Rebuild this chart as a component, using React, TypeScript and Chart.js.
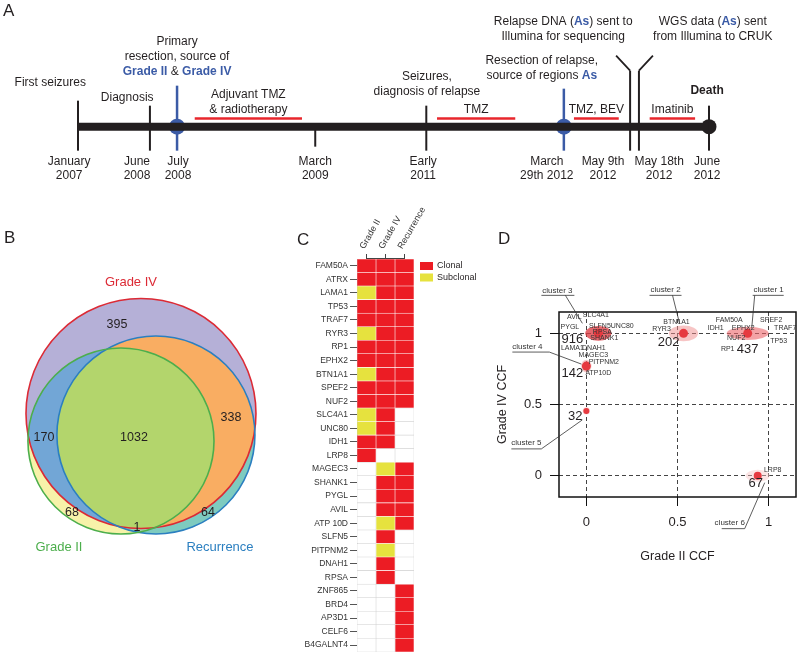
import React, { useEffect, useRef } from "react";
import { Chart, registerables } from "chart.js";
Chart.register(...registerables);

const FONT = "'Liberation Sans', Arial, Helvetica, sans-serif";
const INK = "#231f20";
const BLUE = "#3b5ba6";
const TREAT_RED = "#e8262c";
Chart.defaults.font.family = FONT;

// ---------------- Panel A: timeline ----------------
const dateLine1 = ["January", "June", "July", "March", "Early", "March", "May 9th", "May 18th", "June"];
const dateLine2 = ["2007", "2008", "2008", "2009", "2011", "29th 2012", "2012", "2012", "2012"];
const datePos = [0, 11.4, 15.7, 37.6, 55.2, 77.0, 87.5, 88.9, 100];
const dateLabelPos = [-1.4, 9.35, 15.85, 37.6, 54.7, 74.3, 83.2, 92.1, 99.7];
const dateIsSample = [false, false, true, false, false, true, false, false, false];
const treatNames = [["Adjuvant TMZ", "& radiotherapy"], ["TMZ"], ["TMZ, BEV"], ["Imatinib"]];
const treatStart = [18.5, 56.9, 78.6, 90.6];
const treatEnd = [35.5, 69.3, 85.7, 97.8];

type Seg = { t: string; b?: boolean; c?: string };
const BB = (t: string): Seg => ({ t, b: true, c: BLUE });
const eventNotePos = [-4.4, 7.8, 15.7, 55.3, 73.5, 76.9, 100.6, 99.7];
const eventNotes: Seg[][][] = [
  [[{ t: "First seizures" }]],
  [[{ t: "Diagnosis" }]],
  [[{ t: "Primary" }], [{ t: "resection, source of" }], [BB("Grade II"), { t: " & " }, BB("Grade IV")]],
  [[{ t: "Seizures," }], [{ t: "diagnosis of relapse" }]],
  [[{ t: "Resection of relapse," }], [{ t: "source of regions " }, BB("As")]],
  [[{ t: "Relapse DNA (" }, BB("As"), { t: ") sent to" }], [{ t: "Illumina for sequencing" }]],
  [[{ t: "WGS data (" }, BB("As"), { t: ") sent" }], [{ t: "from Illumina to CRUK" }]],
  [[{ t: "Death", b: true }]],
];
// layout (pixels)
const NOTE_TOP = [83, 98, 42, 77, 61, 22, 22, 91];
const TICK_UP = [26, 21, 41, 0, 21, 38, 56, 56, 21];
const TICK_DOWN = [24, 24, 24, 20, 24, 24, 24, 24, 24];
const TREAT_LEVEL = 0.064;

// ---------------- Panel B: Venn ----------------
const vennSets = ["Grade IV", "Recurrence", "Grade II"];
const vennCx = [0, 0.13, -0.174];
const vennCy = [0, -0.187, -0.239];
const vennR = [1, 0.861, 0.809];
const vennSetLabelX = [-0.087, 0.687, -0.713];
const vennSetLabelY = [1.143, -1.161, -1.161];
const vennCounts = [395, 170, 1032, 338, 68, 64, 1];
const vennCountX = [-0.209, -0.843, -0.061, 0.783, -0.6, 0.583, -0.035];
const vennCountY = [0.77, -0.213, -0.213, -0.039, -0.865, -0.865, -0.996];

// ---------------- Panel C: heatmap ----------------
const heatGenes = ["FAM50A", "ATRX", "LAMA1", "TP53", "TRAF7", "RYR3", "RP1", "EPHX2", "BTN1A1", "SPEF2", "NUF2", "SLC4A1", "UNC80", "IDH1", "LRP8", "MAGEC3", "SHANK1", "PYGL", "AVIL", "ATP 10D", "SLFN5", "PITPNM2", "DNAH1", "RPSA", "ZNF865", "BRD4", "AP3D1", "CELF6", "B4GALNT4"];
const heatSamples = ["Grade II", "Grade IV", "Recurrence"];
// 0 = absent, 1 = clonal, 2 = subclonal
const gradeIIStatus = [1, 1, 2, 1, 1, 2, 1, 1, 2, 1, 1, 2, 2, 1, 1, 0, 0, 0, 0, 0, 0, 0, 0, 0, 0, 0, 0, 0, 0];
const gradeIVStatus = [1, 1, 1, 1, 1, 1, 1, 1, 1, 1, 1, 1, 1, 1, 0, 2, 1, 1, 1, 2, 1, 2, 1, 1, 0, 0, 0, 0, 0];
const recurrenceStatus = [1, 1, 1, 1, 1, 1, 1, 1, 1, 1, 1, 0, 0, 0, 0, 1, 1, 1, 1, 1, 0, 0, 0, 0, 1, 1, 1, 1, 1];
const statusNames = ["Clonal", "Subclonal"];
const STATUS_COLORS = ["#ffffff", "#ec1c24", "#e6e23e"];

// ---------------- Panel D: CCF clusters ----------------
const clusterNames = ["cluster 1", "cluster 2", "cluster 3", "cluster 4", "cluster 5", "cluster 6"];
const clusterGradeII = [0.885, 0.533, 0.066, 0.0, 0.0, 0.94];
const clusterGradeIV = [1.0, 1.0, 1.0, 0.77, 0.455, 0.0];
const clusterSize = [437, 202, 916, 142, 32, 67];
const clusterSdII = [0.115, 0.08, 0.072, 0.028, 0.02, 0.066];
const clusterSdIV = [0.046, 0.056, 0.052, 0.045, 0.025, 0.042];
const ccfTicks = [0, 0.5, 1];
const geneLabels = ["AVIL", "SLC4A1", "PYGL", "SLFN5UNC80", "RPSA", "SHANK1", "LAMA1", "DNAH1", "MAGEC3", "PITPNM2", "ATP10D", "BTN1A1", "RYR3", "FAM50A", "IDH1", "EPHX2", "SPEF2", "TRAF7", "NUF2", "TP53", "RP1", "LRP8"];
const geneCluster = [2, 2, 2, 2, 2, 2, 2, 2, 3, 3, 3, 1, 1, 0, 0, 0, 0, 0, 0, 0, 0, 5];
// label layout (pixel offsets from cluster point)
const GENE_DX = [-24, -2.5, -28.5, 13, 4, 6, -26, -4.5, 7, 17.5, 12, -7, -22, -18.5, -32, -4.5, 23.5, 37.5, -11.5, 31, -20, 15];
const GENE_DY = [-16, -18, -6, -7, -1, 5, 15, 15, -11, -4, 7, -11, -4, -13, -5, -5, -13, -5, 5, 8, 16, -6];
const COUNT_OFF = [[0, 16], [-15, 9], [-26, 6], [-14, 7], [-11, 6], [-2, 8]];
// tx, ty, ux1, ux2, uy, lx1, ly1, lx2, ly2
const CL_LAYOUT = [
  [21, -44, 5, 36, -38, 7, -38, 4, -5],
  [-18, -44, -34, -2, -38, -11, -38, -4, -10],
  [-41, -43, -57, -24, -38, -33, -38, -16, -10],
  [-59, -19, -74, -37, -14, -37, -14, -5, -2],
  [-60, 32, -75, -45, 38, -45, 38, -4, 9],
  [-28, 47, -36, -13, 53, -13, 53, 7, 7],
];
const ELLIPSE_FILL = ["rgba(236,100,105,0.6)", "rgba(240,140,140,0.5)", "rgba(222,60,66,0.78)", "rgba(240,150,150,0.5)", "rgba(245,170,170,0.45)", "rgba(246,195,195,0.45)"];
const DOT_R = [4.5, 4.5, 4.5, 4.5, 3, 4];

function drawRich(ctx: CanvasRenderingContext2D, segs: Seg[], cx: number, cy: number, size: number) {
  const fontOf = (s: Seg) => `${s.b ? "bold " : ""}${size}px ${FONT}`;
  let total = 0;
  const widths = segs.map((s) => {
    ctx.font = fontOf(s);
    const w = ctx.measureText(s.t).width;
    total += w;
    return w;
  });
  let x = cx - total / 2;
  ctx.textAlign = "left";
  ctx.textBaseline = "middle";
  segs.forEach((s, i) => {
    ctx.font = fontOf(s);
    ctx.fillStyle = s.c || INK;
    ctx.fillText(s.t, x, cy);
    x += widths[i];
  });
}

function configA(): any {
  const plugin = {
    id: "timelineDeco",
    beforeDatasetsDraw(chart: any) {
      const { ctx, scales } = chart;
      const x = scales.x, y = scales.y;
      const y0 = y.getPixelForValue(0);
      ctx.save();
      datePos.forEach((p, i) => {
        const px = x.getPixelForValue(p);
        ctx.strokeStyle = dateIsSample[i] ? BLUE : INK;
        ctx.lineWidth = dateIsSample[i] ? 2.5 : 2;
        ctx.beginPath();
        ctx.moveTo(px, y0 - TICK_UP[i]);
        ctx.lineTo(px, y0 + TICK_DOWN[i]);
        ctx.stroke();
      });
      // shipping diagonals
      ctx.strokeStyle = INK;
      ctx.lineWidth = 1.8;
      const p6 = x.getPixelForValue(datePos[6]);
      const p7 = x.getPixelForValue(datePos[7]);
      ctx.beginPath();
      ctx.moveTo(p6, y0 - TICK_UP[6]);
      ctx.lineTo(p6 - 14, y0 - TICK_UP[6] - 15);
      ctx.moveTo(p7, y0 - TICK_UP[7]);
      ctx.lineTo(p7 + 14, y0 - TICK_UP[7] - 15);
      ctx.stroke();
      ctx.restore();
    },
    afterDatasetsDraw(chart: any) {
      const { ctx, scales } = chart;
      const x = scales.x, y = scales.y;
      const y0 = y.getPixelForValue(0);
      ctx.save();
      eventNotes.forEach((lines, i) => {
        const cx = x.getPixelForValue(eventNotePos[i]);
        lines.forEach((segs, k) => drawRich(ctx, segs, cx, NOTE_TOP[i] + k * 14.7, 12));
      });
      treatNames.forEach((lines, i) => {
        const cx = x.getPixelForValue((treatStart[i] + treatEnd[i]) / 2);
        lines.forEach((t, k) => drawRich(ctx, [{ t }], cx, y0 - 17 - (lines.length - 1 - k) * 14.7, 12));
      });
      dateLine1.forEach((t, i) => {
        const cx = x.getPixelForValue(dateLabelPos[i]);
        drawRich(ctx, [{ t }], cx, y0 + 35, 12);
        drawRich(ctx, [{ t: dateLine2[i] }], cx, y0 + 49.5, 12);
      });
      ctx.restore();
    },
  };
  const datasets: any[] = [
    {
      data: [{ x: datePos[0], y: 0 }, { x: datePos[datePos.length - 1], y: 0 }],
      showLine: true, borderColor: INK, borderWidth: 8, borderCapStyle: "butt", pointRadius: 0,
    },
    ...treatNames.map((_, i) => ({
      data: [{ x: treatStart[i], y: TREAT_LEVEL }, { x: treatEnd[i], y: TREAT_LEVEL }],
      showLine: true, borderColor: TREAT_RED, borderWidth: 2.5, pointRadius: 0,
    })),
    {
      data: datePos.map((p) => ({ x: p, y: 0 })).filter((_, i) => dateIsSample[i]),
      pointRadius: 8, pointBackgroundColor: BLUE, pointBorderWidth: 0,
    },
    {
      data: [{ x: datePos[datePos.length - 1], y: 0 }],
      pointRadius: 7.5, pointBackgroundColor: INK, pointBorderWidth: 0,
    },
  ];
  return {
    type: "scatter",
    data: { datasets },
    plugins: [plugin],
    options: {
      animation: false, responsive: false, devicePixelRatio: 1,
      layout: { padding: 0, autoPadding: false },
      plugins: { legend: { display: false }, tooltip: { enabled: false } },
      scales: {
        x: { type: "linear", display: false, min: -12.36, max: 113.95 },
        y: { type: "linear", display: false, min: -0.5, max: 1 },
      },
    },
  };
}

function configB(): any {
  const plugin = {
    id: "venn",
    beforeDatasetsDraw(chart: any) {
      const { ctx, scales } = chart;
      const x = scales.x, y = scales.y;
      const circ = vennSets.map((_, i) => ({
        cx: x.getPixelForValue(vennCx[i]),
        cy: y.getPixelForValue(vennCy[i]),
        r: x.getPixelForValue(vennR[i]) - x.getPixelForValue(0),
      }));
      const path = (c: any) => { ctx.beginPath(); ctx.arc(c.cx, c.cy, c.r, 0, Math.PI * 2); };
      const fill = (c: any, col: string, clips: any[] = []) => {
        ctx.save();
        clips.forEach((k) => { path(k); ctx.clip(); });
        path(c);
        ctx.fillStyle = col;
        ctx.fill();
        ctx.restore();
      };
      const [g4, rec, g2] = circ;
      fill(g2, "#f7f2a9");
      fill(rec, "#7ecbbf");
      fill(rec, "#9dcfa9", [g2]);
      fill(g4, "#b5b0d7");
      fill(rec, "#f9ad62", [g4]);
      fill(g2, "#72a6d6", [g4]);
      fill(g2, "#b3d56c", [g4, rec]);
      const strokes = ["#dc2a35", "#2b7fc0", "#4cae4c"];
      circ.forEach((c, i) => {
        ctx.save();
        path(c);
        ctx.strokeStyle = strokes[i];
        ctx.lineWidth = 1.6;
        ctx.stroke();
        ctx.restore();
      });
      ctx.save();
      ctx.textAlign = "center";
      ctx.textBaseline = "middle";
      ctx.font = `12.5px ${FONT}`;
      ctx.fillStyle = INK;
      vennCounts.forEach((n, i) => ctx.fillText(String(n), x.getPixelForValue(vennCountX[i]), y.getPixelForValue(vennCountY[i])));
      ctx.font = `13px ${FONT}`;
      vennSets.forEach((s, i) => {
        ctx.fillStyle = strokes[i];
        ctx.fillText(s, x.getPixelForValue(vennSetLabelX[i]), y.getPixelForValue(vennSetLabelY[i]));
      });
      ctx.restore();
    },
  };
  return {
    type: "scatter",
    data: { datasets: [{ data: vennCountX.map((v, i) => ({ x: v, y: vennCountY[i] })), pointRadius: 0 }] },
    plugins: [plugin],
    options: {
      animation: false, responsive: false, devicePixelRatio: 1,
      layout: { padding: 0, autoPadding: false },
      plugins: { legend: { display: false }, tooltip: { enabled: false } },
      scales: {
        x: { type: "linear", display: false, min: -1.226, max: 1.122 },
        y: { type: "linear", display: false, min: -1.274, max: 1.596 },
      },
    },
  };
}

function configC(): any {
  const statuses = [gradeIIStatus, gradeIVStatus, recurrenceStatus];
  const plugin = {
    id: "heatDeco",
    afterDraw(chart: any) {
      const { ctx, chartArea, scales } = chart;
      const x = scales.x;
      ctx.save();
      ctx.strokeStyle = "#444";
      ctx.lineWidth = 1;
      ctx.beginPath();
      ctx.moveTo(x.getPixelForValue(0.5), chartArea.top - 0.5);
      ctx.lineTo(x.getPixelForValue(heatSamples.length - 0.5), chartArea.top - 0.5);
      ctx.stroke();
      statusNames.forEach((s, i) => {
        const lx = chartArea.right + 6;
        const ly = chartArea.top + 3 + i * 11.5;
        ctx.fillStyle = STATUS_COLORS[i + 1];
        ctx.fillRect(lx, ly, 13, 8);
        ctx.fillStyle = INK;
        ctx.font = `9px ${FONT}`;
        ctx.textAlign = "left";
        ctx.textBaseline = "middle";
        ctx.fillText(s, lx + 17, ly + 4);
      });
      ctx.restore();
    },
  };
  return {
    type: "bar",
    data: {
      labels: heatGenes,
      datasets: heatSamples.map((name, j) => ({
        label: name,
        data: statuses[j].map(() => 1),
        backgroundColor: statuses[j].map((s) => STATUS_COLORS[s]),
        borderColor: statuses[j].map((s) => (s ? "rgba(255,255,255,0.5)" : "#d6d6d6")),
        borderWidth: 0.6,
        borderSkipped: false,
        barPercentage: 1,
        categoryPercentage: 1,
      })),
    },
    plugins: [plugin],
    options: {
      indexAxis: "y",
      animation: false, responsive: false, devicePixelRatio: 1,
      layout: { padding: { left: 0, right: 76, top: 0, bottom: 1 }, autoPadding: false },
      plugins: { legend: { display: false }, tooltip: { enabled: false } },
      scales: {
        x: {
          type: "linear", position: "top", stacked: true, min: 0, max: heatSamples.length,
          afterBuildTicks: (s: any) => { s.ticks = heatSamples.map((_, i) => ({ value: i + 0.5 })); },
          afterFit: (s: any) => { s.height = 59; },
          ticks: {
            callback: (_v: any, i: number) => heatSamples[i],
            autoSkip: false, minRotation: 60, maxRotation: 60, labelOffset: 5,
            font: { family: FONT, size: 9 }, color: "#333", padding: 3,
          },
          grid: { drawOnChartArea: false, tickLength: 5, color: "#444" },
          border: { display: false },
        },
        y: {
          type: "category", stacked: true, position: "left",
          afterFit: (s: any) => { s.width = 67; },
          ticks: { autoSkip: false, font: { family: FONT, size: 8.5 }, color: "#333", padding: 2 },
          grid: { drawOnChartArea: false, offset: false, tickLength: 7, color: "#555" },
          border: { display: true, color: "#999" },
        },
      },
    },
  };
}

function configD(): any {
  const plugin = {
    id: "ccfDeco",
    beforeDatasetsDraw(chart: any) {
      const { ctx, scales } = chart;
      const x = scales.x, y = scales.y;
      ctx.save();
      clusterNames.forEach((_, i) => {
        const px = x.getPixelForValue(clusterGradeII[i]);
        const py = y.getPixelForValue(clusterGradeIV[i]);
        const rx = x.getPixelForValue(clusterSdII[i]) - x.getPixelForValue(0);
        const ry = y.getPixelForValue(0) - y.getPixelForValue(clusterSdIV[i]);
        ctx.beginPath();
        ctx.ellipse(px, py, rx, ry, 0, 0, Math.PI * 2);
        ctx.fillStyle = ELLIPSE_FILL[i];
        ctx.fill();
      });
      ctx.restore();
    },
    afterDatasetsDraw(chart: any) {
      const { ctx, scales, chartArea } = chart;
      const x = scales.x, y = scales.y;
      ctx.save();
      ctx.strokeStyle = "#111";
      ctx.lineWidth = 1.5;
      ctx.strokeRect(chartArea.left, chartArea.top, chartArea.right - chartArea.left, chartArea.bottom - chartArea.top);
      ctx.textAlign = "center";
      ctx.textBaseline = "middle";
      const pts = clusterNames.map((_, i) => [x.getPixelForValue(clusterGradeII[i]), y.getPixelForValue(clusterGradeIV[i])]);
      ctx.font = `7px ${FONT}`;
      ctx.fillStyle = "#333";
      geneLabels.forEach((g, i) => {
        const [px, py] = pts[geneCluster[i]];
        ctx.fillText(g, px + GENE_DX[i], py + GENE_DY[i]);
      });
      ctx.font = `13px ${FONT}`;
      ctx.fillStyle = INK;
      clusterSize.forEach((n, i) => {
        const [px, py] = pts[i];
        ctx.fillText(String(n), px + COUNT_OFF[i][0], py + COUNT_OFF[i][1]);
      });
      ctx.font = `8px ${FONT}`;
      ctx.strokeStyle = "#333";
      ctx.lineWidth = 0.8;
      clusterNames.forEach((n, i) => {
        const [px, py] = pts[i];
        const L = CL_LAYOUT[i];
        ctx.fillStyle = "#333";
        ctx.fillText(n, px + L[0], py + L[1]);
        ctx.beginPath();
        ctx.moveTo(px + L[2], py + L[4]);
        ctx.lineTo(px + L[3], py + L[4]);
        ctx.moveTo(px + L[5], py + L[6]);
        ctx.lineTo(px + L[7], py + L[8]);
        ctx.stroke();
      });
      ctx.restore();
    },
  };
  const axisCommon = (title: string, isX: boolean) => ({
    type: "linear", min: -0.15, max: 1.15,
    afterBuildTicks: (s: any) => { s.ticks = ccfTicks.map((v) => ({ value: v })); },
    afterFit: (s: any) => { if (isX) s.height = 83; else s.width = 64; },
    ticks: { font: { family: FONT, size: 13 }, color: INK, padding: isX ? 9 : 8, callback: (v: any) => String(v) },
    grid: { color: "#444", tickColor: "#111", tickLength: 9, lineWidth: 1 },
    border: { display: false, dash: [4, 3] },
    title: {
      display: true, text: title, color: INK, font: { family: FONT, size: 12.5 },
      padding: isX ? { top: 0, bottom: 16 } : { top: 0, bottom: 0 },
    },
  });
  return {
    type: "scatter",
    data: {
      datasets: [{
        data: clusterNames.map((_, i) => ({ x: clusterGradeII[i], y: clusterGradeIV[i] })),
        pointRadius: DOT_R, pointBackgroundColor: "#e63a40", pointBorderWidth: 0,
      }],
    },
    plugins: [plugin],
    options: {
      animation: false, responsive: false, devicePixelRatio: 1,
      layout: { padding: { left: 0, right: 1, top: 32, bottom: 0 }, autoPadding: false },
      plugins: { legend: { display: false }, tooltip: { enabled: false } },
      scales: { x: axisCommon("Grade II CCF", true), y: axisCommon("Grade IV CCF", false) },
    },
  };
}

export default function App() {
  const refA = useRef<HTMLCanvasElement>(null);
  const refB = useRef<HTMLCanvasElement>(null);
  const refC = useRef<HTMLCanvasElement>(null);
  const refD = useRef<HTMLCanvasElement>(null);
  useEffect(() => {
    const charts = [
      new Chart(refA.current as HTMLCanvasElement, configA()),
      new Chart(refB.current as HTMLCanvasElement, configB()),
      new Chart(refC.current as HTMLCanvasElement, configC()),
      new Chart(refD.current as HTMLCanvasElement, configD()),
    ];
    return () => charts.forEach((c) => c.destroy());
  }, []);
  const pos = (left: number, top: number, w: number, h: number): React.CSSProperties => ({ position: "absolute", left, top, width: w, height: h });
  const letter = (left: number, top: number): React.CSSProperties => ({ position: "absolute", left, top, fontSize: 17, lineHeight: "20px", color: INK, fontFamily: FONT });
  return (
    <div style={{ position: "fixed", left: 0, top: 0, width: 797, height: 659, background: "#fff", overflow: "hidden" }}>
      <canvas ref={refA} width={797} height={190} style={pos(0, 0, 797, 190)} />
      <canvas ref={refB} width={270} height={330} style={pos(0, 230, 270, 330)} />
      <canvas ref={refC} width={200} height={459} style={pos(290, 200, 200, 459)} />
      <canvas ref={refD} width={302} height={300} style={pos(495, 280, 302, 300)} />
      <div style={letter(3, 1)}>A</div>
      <div style={letter(4, 228)}>B</div>
      <div style={letter(297, 230)}>C</div>
      <div style={letter(498, 229)}>D</div>
    </div>
  );
}
